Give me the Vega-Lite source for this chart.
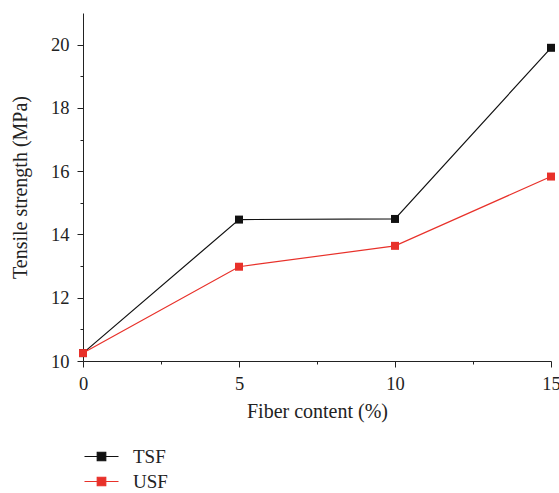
{
  "$schema": "https://vega.github.io/schema/vega-lite/v6.json",
  "width": 468,
  "height": 348,
  "autosize": {"type": "none"},
  "padding": {"left": 83, "top": 13, "right": 8, "bottom": 132},
  "background": "white",
  "config": {
    "view": {"stroke": null},
    "font": "Liberation Serif",
    "axis": {
      "labelFont": "Liberation Serif",
      "titleFont": "Liberation Serif",
      "labelFontSize": 18.5,
      "titleFontSize": 20,
      "titleFontWeight": "normal",
      "labelColor": "#222",
      "titleColor": "#222",
      "domainColor": "#222",
      "tickColor": "#222",
      "grid": false
    },
    "legend": {
      "labelFont": "Liberation Serif",
      "labelFontSize": 19,
      "labelColor": "#222"
    }
  },
  "data": {
    "values": [
      {"content": 0, "strength": 10.25, "series": "TSF"},
      {"content": 5, "strength": 14.47, "series": "TSF"},
      {"content": 10, "strength": 14.49, "series": "TSF"},
      {"content": 15, "strength": 19.9, "series": "TSF"},
      {"content": 0, "strength": 10.25, "series": "USF"},
      {"content": 5, "strength": 12.98, "series": "USF"},
      {"content": 10, "strength": 13.64, "series": "USF"},
      {"content": 15, "strength": 15.83, "series": "USF"}
    ]
  },
  "mark": {
    "type": "line",
    "strokeWidth": 1.2,
    "clip": false,
    "point": {"shape": "square", "filled": true, "size": 64, "opacity": 1}
  },
  "encoding": {
    "x": {
      "field": "content",
      "type": "quantitative",
      "scale": {"domain": [0, 15], "nice": false, "zero": false},
      "axis": {
        "title": "Fiber content (%)",
        "values": [0, 2.5, 5, 7.5, 10, 12.5, 15],
        "labelExpr": "datum.value % 5 == 0 ? datum.label : ''",
        "tickSize": {"condition": {"test": "datum.value % 5 != 0", "value": 3}, "value": 6},
        "labelPadding": 7,
        "titlePadding": 9,
        "labelFlush": false,
        "labelOverlap": false
      }
    },
    "y": {
      "field": "strength",
      "type": "quantitative",
      "scale": {"domain": [10, 21], "nice": false, "zero": false},
      "axis": {
        "title": "Tensile strength (MPa)",
        "values": [10, 11, 12, 13, 14, 15, 16, 17, 18, 19, 20],
        "labelExpr": "datum.value % 2 == 0 ? datum.label : ''",
        "tickSize": {"condition": {"test": "datum.value % 2 != 0", "value": 3}, "value": 6},
        "labelPadding": 8,
        "titlePadding": 20,
        "labelFlush": false,
        "labelOverlap": false
      }
    },
    "color": {
      "field": "series",
      "type": "nominal",
      "scale": {"domain": ["TSF", "USF"], "range": ["#111111", "#e8312a"]},
      "legend": {
        "title": null,
        "orient": "none",
        "legendX": 9,
        "legendY": 434,
        "padding": 0,
        "symbolType": "M-2,0H2M-0.5,-0.5H0.5V0.5H-0.5Z",
        "symbolSize": 289,
        "symbolStrokeWidth": 1.2,
        "labelOffset": 22,
        "rowPadding": 5,
        "encode": {
          "symbols": {"update": {"fill": {"scale": "color", "field": "value"}, "stroke": {"scale": "color", "field": "value"}, "opacity": {"value": 1}}}
        }
      }
    }
  }
}
